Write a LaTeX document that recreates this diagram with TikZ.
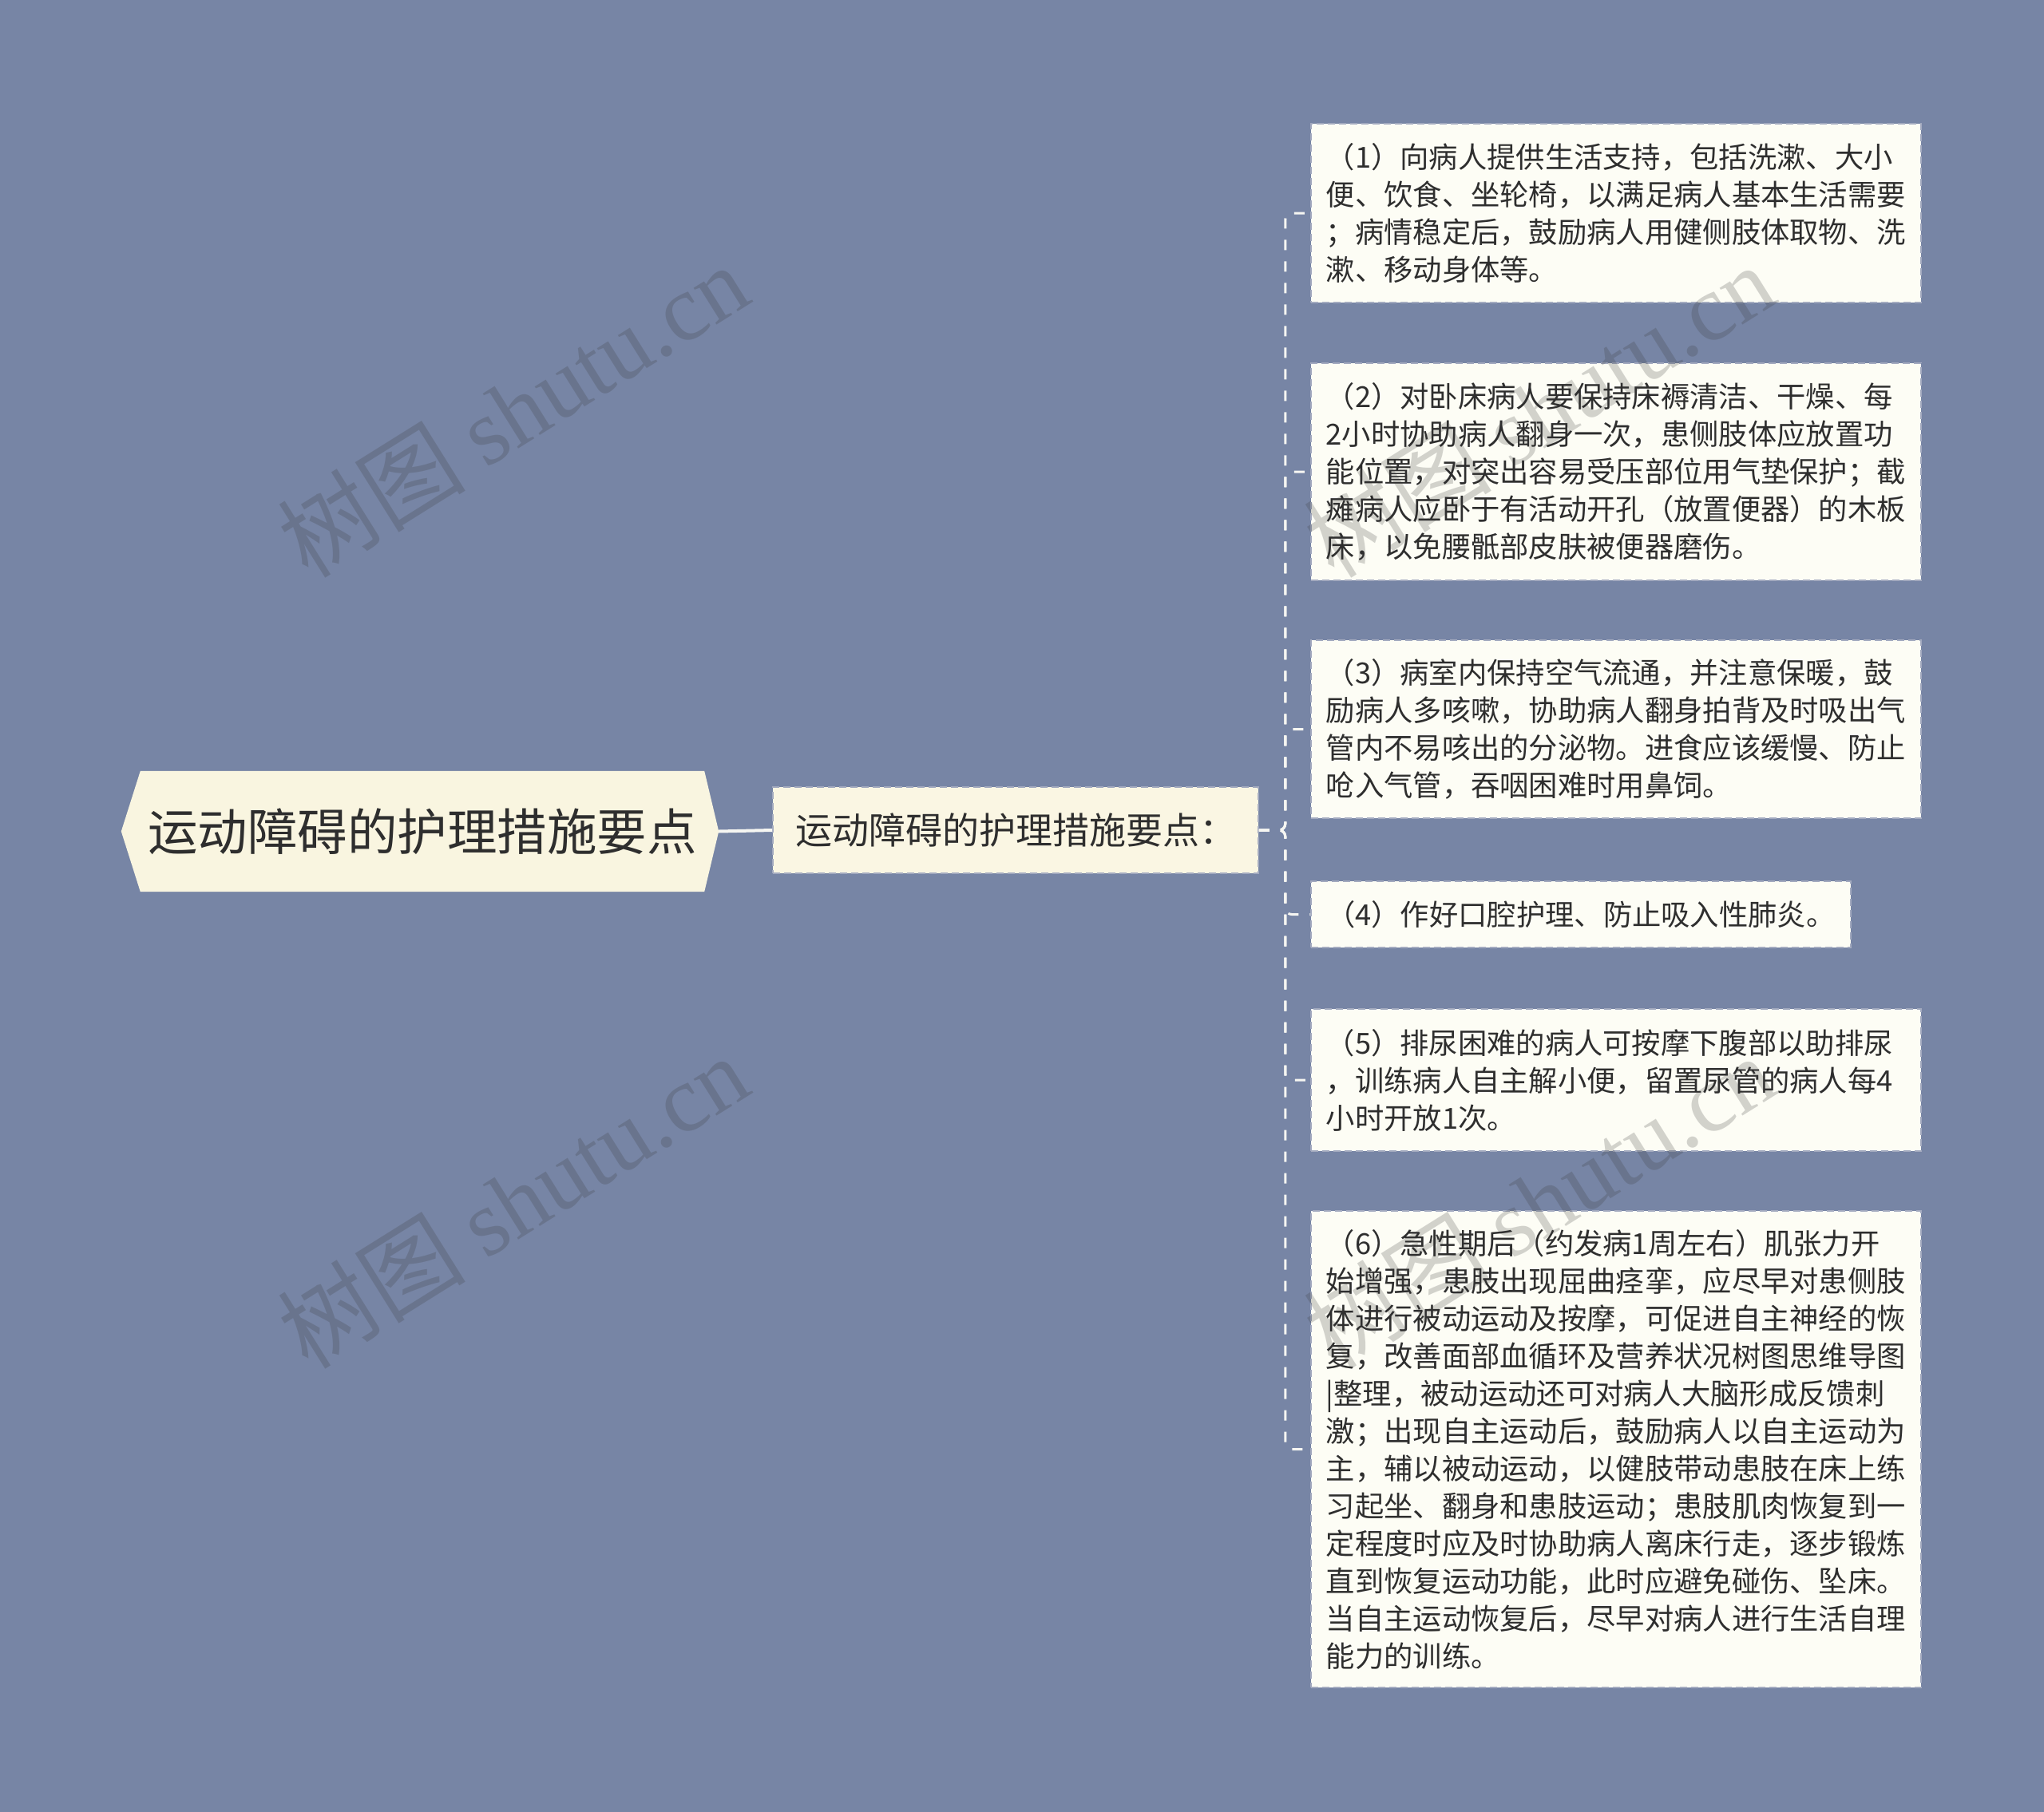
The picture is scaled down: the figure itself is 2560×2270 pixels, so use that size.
\documentclass[tikz,border=0pt]{standalone}
\usepackage{fontspec}
\setmainfont{Noto Sans CJK SC}
\newfontfamily\wmcjk{Noto Sans CJK SC}
\newfontfamily\wmlat{Liberation Serif}
\usetikzlibrary{backgrounds}
\definecolor{bgc}{HTML}{7785A5}
\definecolor{rootfill}{HTML}{F9F5E0}
\definecolor{subfill}{HTML}{FAF6E3}
\definecolor{leaffill}{HTML}{FDFDF5}
\definecolor{txt}{HTML}{2E2E2E}
\definecolor{edgec}{HTML}{F6F6F2}
\definecolor{boxedge}{HTML}{A3AABF}
\definecolor{wmc}{HTML}{3A3A3A}
\begin{document}
\begin{tikzpicture}[x=1pt,y=-1pt,
  rootbox/.style={inner sep=0pt, minimum width=706pt, minimum height=151pt, text=txt, font=\fontsize{62.5}{70}\selectfont},
  subbox/.style={draw=boxedge, line width=1.6pt, dash pattern=on 9pt off 5pt, fill=subfill, inner sep=0pt, minimum width=608pt, minimum height=108pt, text=txt, font=\fontsize{46}{54}\selectfont},
  leafbox/.style={draw=boxedge, line width=1.6pt, dash pattern=on 9pt off 5pt, fill=leaffill, text=txt, font=\fontsize{36.3}{47}\selectfont, align=left, inner xsep=19pt, inner ysep=0pt, anchor=west},
  wideleaf/.style={leafbox, text width=726pt},
  conn/.style={draw=edgec, line width=3pt, dash pattern=on 13pt off 14pt, rounded corners=8pt},
  rootconn/.style={draw=edgec, line width=4pt},
  wm/.style={text=wmc, opacity=0.22, rotate=32, inner sep=0pt}
]
\useasboundingbox (0,0) rectangle (2560,2270);

\node[rootbox] (root) at (529,1041.5) {运动障碍的护理措施要点};
\begin{pgfonlayer}{background}
  \fill[bgc] (0,0) rectangle (2560,2270);
  \fill[rootfill] ([xshift=-24pt]root.west) -- (root.north west) -- (root.north east) -- ([xshift=18pt]root.east) -- (root.south east) -- (root.south west) -- cycle;
\end{pgfonlayer}

\node[subbox] (sub) at (1272,1040) {运动障碍的护理措施要点：};

\node[wideleaf, minimum height=224pt] (l1) at (1641,267) {（1）向病人提供生活支持，包括洗漱、大小\\便、饮食、坐轮椅，以满足病人基本生活需要\\；病情稳定后，鼓励病人用健侧肢体取物、洗\\漱、移动身体等。};

\node[wideleaf, minimum height=272pt] (l2) at (1641,591) {（2）对卧床病人要保持床褥清洁、干燥、每\\2小时协助病人翻身一次，患侧肢体应放置功\\能位置，对突出容易受压部位用气垫保护；截\\瘫病人应卧于有活动开孔（放置便器）的木板\\床，以免腰骶部皮肤被便器磨伤。};

\node[wideleaf, minimum height=223pt] (l3) at (1641,913.5) {（3）病室内保持空气流通，并注意保暖，鼓\\励病人多咳嗽，协助病人翻身拍背及时吸出气\\管内不易咳出的分泌物。进食应该缓慢、防止\\呛入气管，吞咽困难时用鼻饲。};

\node[leafbox, minimum height=83pt, minimum width=676pt] (l4) at (1641,1145.5) {（4）作好口腔护理、防止吸入性肺炎。};

\node[wideleaf, minimum height=178pt] (l5) at (1641,1353) {（5）排尿困难的病人可按摩下腹部以助排尿\\，训练病人自主解小便，留置尿管的病人每4\\小时开放1次。};

\node[wideleaf, minimum height=597pt] (l6) at (1641,1815.5) {（6）急性期后（约发病1周左右）肌张力开\\始增强，患肢出现屈曲痉挛，应尽早对患侧肢\\体进行被动运动及按摩，可促进自主神经的恢\\复，改善面部血循环及营养状况树图思维导图\\|整理，被动运动还可对病人大脑形成反馈刺\\激；出现自主运动后，鼓励病人以自主运动为\\主，辅以被动运动，以健肢带动患肢在床上练\\习起坐、翻身和患肢运动；患肢肌肉恢复到一\\定程度时应及时协助病人离床行走，逐步锻炼\\直到恢复运动功能，此时应避免碰伤、坠床。\\当自主运动恢复后，尽早对病人进行生活自理\\能力的训练。};

\draw[rootconn] ([xshift=18pt]root.east) -- (sub.west);
\foreach \k in {1,...,6} {
  \draw[conn] (sub.east) -- ++(33,0) |- (l\k.west);
}

\node[wm] (wm1) at (642,514) {\fontsize{118}{118}\selectfont{\wmcjk 树图} {\wmlat shutu.cn}};
\node[wm] (wm2) at (642,1505) {\fontsize{118}{118}\selectfont{\wmcjk 树图} {\wmlat shutu.cn}};
\node[wm] (wm3) at (1927,514) {\fontsize{118}{118}\selectfont{\wmcjk 树图} {\wmlat shutu.cn}};
\node[wm] (wm4) at (1927,1505) {\fontsize{118}{118}\selectfont{\wmcjk 树图} {\wmlat shutu.cn}};
\end{tikzpicture}
\end{document}
